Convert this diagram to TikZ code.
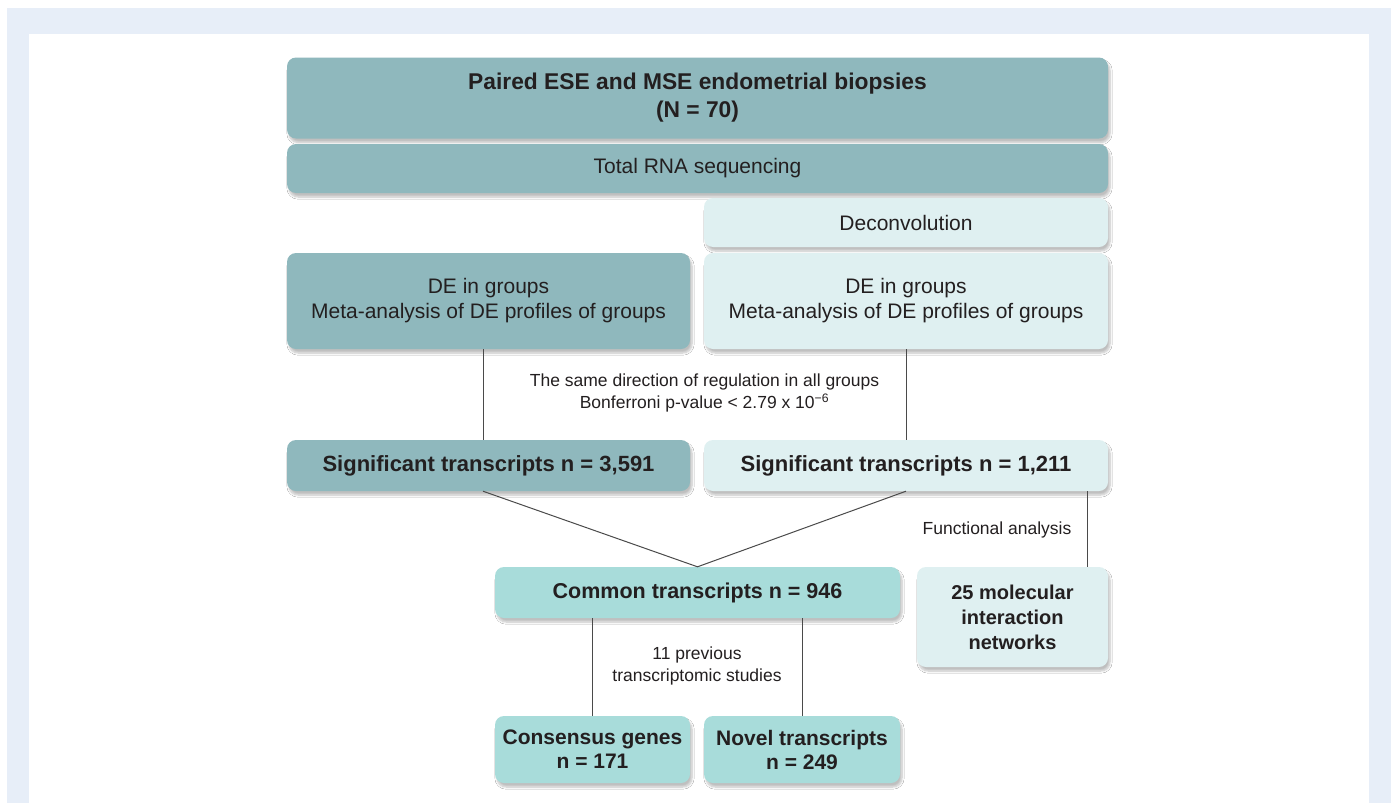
\documentclass[tikz,border=0pt]{standalone}
\usepackage{fontspec}
\setmainfont{Liberation Sans}
\usetikzlibrary{shadows.blur}
\definecolor{frameblue}{HTML}{E7EEF8}
\definecolor{darkteal}{HTML}{8FB8BD}
\definecolor{lightteal}{HTML}{DFF0F1}
\definecolor{midteal}{HTML}{A8DCDA}
\definecolor{ink}{HTML}{231F20}
\definecolor{linegray}{HTML}{4A4A4A}
\tikzset{
  box/.style={rectangle, rounded corners=9pt, inner sep=0pt, align=center, text=ink,
    blur shadow={shadow xshift=2pt, shadow yshift=-4pt, shadow blur steps=6, shadow opacity=25}},
  dark/.style={box, fill=darkteal},
  light/.style={box, fill=lightteal},
  mid/.style={box, fill=midteal},
  conn/.style={draw=linegray, line width=1pt},
  lbl/.style={align=center, text=ink, font=\fontsize{17.5}{22}\selectfont},
}
\begin{document}
\begin{tikzpicture}[x=1pt,y=-1pt]
\useasboundingbox (0,0) rectangle (1395,803);
\fill[frameblue] (7,8) rectangle (1391,803);
\fill[white] (29,34) rectangle (1369,803);

\node[dark, minimum width=821pt, minimum height=81pt, font=\fontsize{22.8}{28}\selectfont\bfseries] (top) at (697.5,98)
  {Paired ESE and MSE endometrial biopsies\\(N = 70)};
\node[dark, minimum width=821pt, minimum height=49pt, font=\fontsize{21}{25}\selectfont] (rna) at (697.5,168.5)
  {Total RNA sequencing};
\node[light, minimum width=404pt, minimum height=49pt, font=\fontsize{21}{25}\selectfont] (dec) at (906,222.5)
  {Deconvolution};
\node[dark, minimum width=403pt, minimum height=96pt, font=\fontsize{21}{25}\selectfont] (del) at (488.5,301)
  {DE in groups\\Meta-analysis of DE profiles of groups};
\node[light, minimum width=404pt, minimum height=96pt, font=\fontsize{21}{25}\selectfont] (der) at (906,301)
  {DE in groups\\Meta-analysis of DE profiles of groups};
\node[dark, minimum width=403pt, minimum height=51pt, font=\fontsize{22}{26}\selectfont\bfseries] (sigl) at (488.5,465.5)
  {Significant transcripts n = 3,591};
\node[light, minimum width=404pt, minimum height=51pt, font=\fontsize{22}{26}\selectfont\bfseries] (sigr) at (906,465.5)
  {Significant transcripts n = 1,211};
\node[mid, minimum width=405pt, minimum height=51pt, font=\fontsize{21.5}{26}\selectfont\bfseries] (com) at (697.5,592.5)
  {Common transcripts n = 946};
\node[light, minimum width=191pt, minimum height=100pt, font=\fontsize{20}{25}\selectfont\bfseries] (mol) at (1012.5,617)
  {25 molecular\\interaction\\networks};
\node[mid, minimum width=195pt, minimum height=67pt, font=\fontsize{21}{24}\selectfont\bfseries] (cons) at (592.5,749.5)
  {Consensus genes\\n = 171};
\node[mid, minimum width=196pt, minimum height=67pt, font=\fontsize{21}{24}\selectfont\bfseries] (nov) at (802,749.5)
  {Novel transcripts\\n = 249};

\node[lbl] (crit) at (704.5,393) {The same direction of regulation in all groups\\Bonferroni p-value < 2.79 x 10\textsuperscript{−6}};
\node[lbl] (func) at (997,530) {Functional analysis};
\node[lbl] (prev) at (697,666) {11 previous\\transcriptomic studies};

\draw[conn] ([xshift=-5.5pt]del.south) -- ([xshift=-5.5pt]sigl.north);
\draw[conn] (der.south) -- (sigr.north);
\draw[conn] ([xshift=-5.5pt]sigl.south) -- (com.north) -- (sigr.south);
\draw[conn] ([xshift=-21pt]sigr.south east) -- ([xshift=-21pt]sigr.south east |- mol.north);
\draw[conn] (com.south -| cons.north) -- (cons.north);
\draw[conn] (com.south -| nov.north) -- (nov.north);
\end{tikzpicture}
\end{document}
